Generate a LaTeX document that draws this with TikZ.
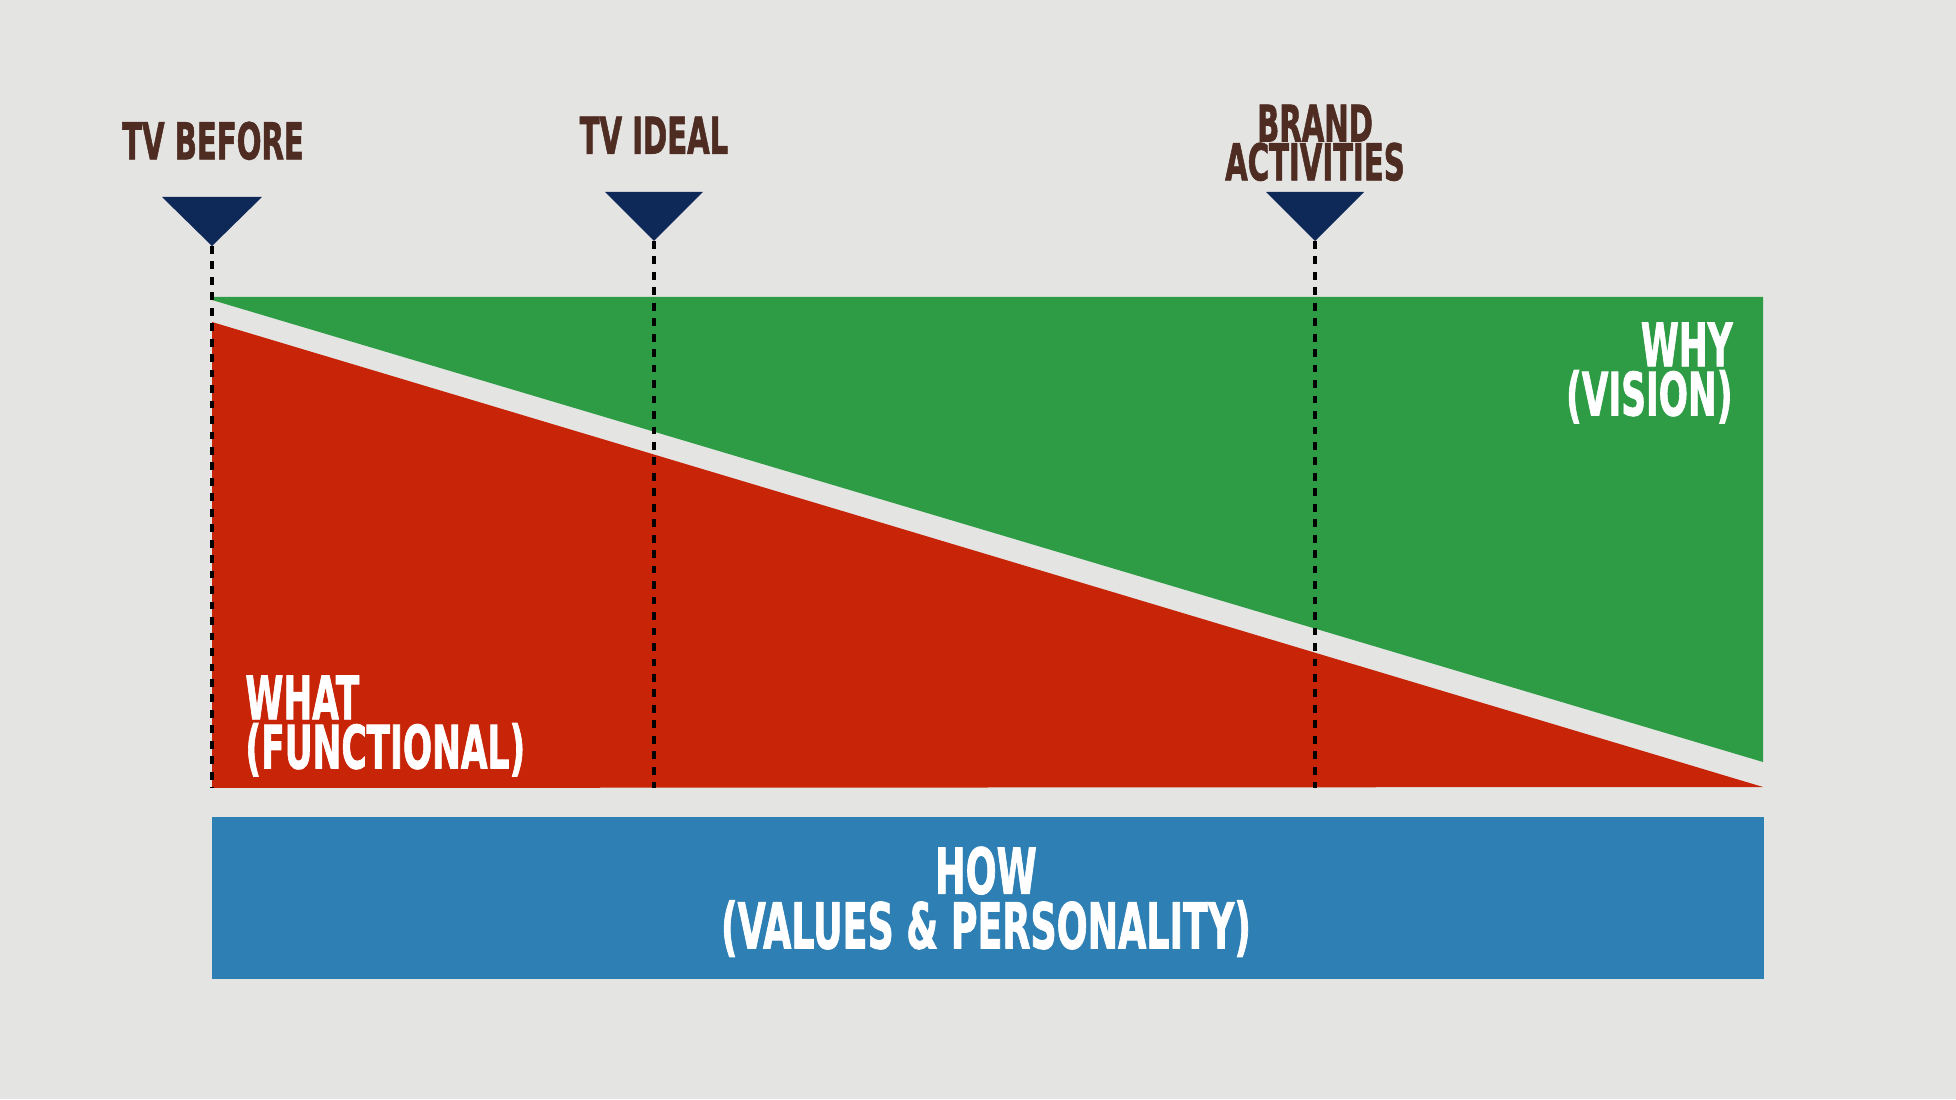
\documentclass[tikz,border=0pt]{standalone}
\usepackage{fontspec}
\newfontfamily\postfont{DejaVu Sans Condensed}[BoldFeatures={FakeBold=1.6}]
\usetikzlibrary{positioning}

\definecolor{wall}{RGB}{228,229,227}
\definecolor{why}{RGB}{45,156,69}
\definecolor{what}{RGB}{200,37,8}
\definecolor{how}{RGB}{46,128,180}
\definecolor{marker}{RGB}{14,40,88}
\definecolor{ink}{RGB}{78,44,34}

\begin{document}
\begin{tikzpicture}[
  tag/.style={font=\postfont\bfseries\fontsize{14.4}{11}\selectfont, text=ink,
              xscale=0.64, inner sep=0pt, align=center},
  area/.style={font=\postfont\bfseries\fontsize{17}{14}\selectfont, text=white,
               xscale=0.64, inner sep=0pt},
  pin/.style={fill=marker},
  guide/.style={draw=black, line width=1.2pt, dash pattern=on 2.2pt off 2.2pt}
]

\fill[wall] (0,0) rectangle (19.56,10.99);

\fill[why]  (2.12,8.02) -- (17.63,8.02) -- (17.63,3.37) -- (2.12,7.99) -- cycle;
\fill[what] (2.12,7.77) -- (17.63,3.12) -- (2.12,3.11) -- cycle;
\node[fill=how, minimum width=15.52cm, minimum height=1.62cm, inner sep=0pt] (how) at (9.88,2.01) {};

\coordinate (base)   at (0,3.11);
\coordinate (before) at (2.12,8.53);
\coordinate (ideal)  at (6.54,8.58);
\coordinate (brand)  at (13.15,8.58);

\fill[pin] (before) -- ++(-0.5,0.49) -- ++(1,0) -- cycle;
\fill[pin] (ideal)  -- ++(-0.49,0.49) -- ++(0.98,0) -- cycle;
\fill[pin] (brand)  -- ++(-0.49,0.49) -- ++(0.98,0) -- cycle;

\draw[guide] (before) -- (before |- base);
\draw[guide] (ideal)  -- (ideal |- base);
\draw[guide] (brand)  -- (brand |- base);

\node[tag, anchor=north] (beforelbl) at (2.13,9.78)  {TV BEFORE};
\node[tag, anchor=north] (ideallbl)  at (6.54,9.83)  {TV IDEAL};
\node[tag, anchor=north] (brandlbl)  at (13.15,9.95) {BRAND\\ACTIVITIES};

\node[area, anchor=north east, align=right] (whylbl)  at (17.33,7.77) {WHY\\(VISION)};
\node[area, anchor=north west, align=left]  (whatlbl) at (2.45,4.24)  {WHAT\\(FUNCTIONAL)};
\node[area, anchor=north, align=center, font=\postfont\bfseries\fontsize{18}{15.6}\selectfont]
  (howlbl) at (9.86,2.53) {HOW\\(VALUES \& PERSONALITY)};

\end{tikzpicture}
\end{document}
